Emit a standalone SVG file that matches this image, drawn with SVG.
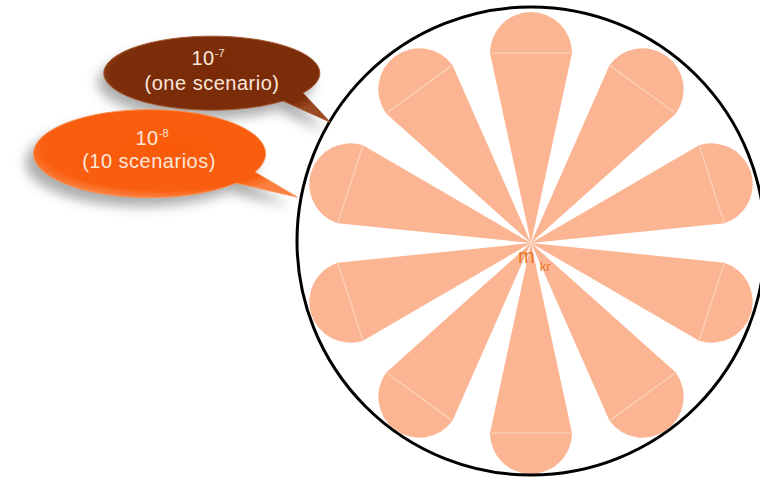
<svg xmlns="http://www.w3.org/2000/svg" width="760" height="479" viewBox="0 0 760 479">
<style>
.petal{fill:#fbb592;}
.seam{stroke:#fdd8c3;stroke-width:1;fill:none;}
.btxt{font-family:"Liberation Sans",Arial,sans-serif;font-size:20px;fill:#fbe7d8;text-anchor:middle;letter-spacing:0.5px;}
.sup{font-size:11px;letter-spacing:0;}
.lbl{font-family:"Liberation Sans",Arial,sans-serif;font-size:20px;fill:#e8742a;}
</style>
<defs>
<filter id="shadow" x="-20%" y="-30%" width="140%" height="170%">
<feGaussianBlur stdDeviation="6"/>
</filter>
<radialGradient id="gBrown" cx="50%" cy="45%" r="55%">
<stop offset="0" stop-color="#7a2a06"/>
<stop offset="0.85" stop-color="#7c2e0a"/>
<stop offset="1" stop-color="#9a4a22"/>
</radialGradient>
<radialGradient id="gOrange" cx="50%" cy="45%" r="55%">
<stop offset="0" stop-color="#fa5a0a"/>
<stop offset="0.85" stop-color="#f95e10"/>
<stop offset="1" stop-color="#fb8040"/>
</radialGradient>
<g id="petalShape">
<path class="petal" d="M0,0 L-41,-190 A41,41 0 0 1 41,-190 Z"/>
<path class="seam" d="M-40,-190 H40"/>
</g>
</defs>
<rect width="760" height="479" fill="#ffffff"/>

<g id="ring">
<circle cx="531" cy="241" r="234" fill="#ffffff" stroke="none"/>
</g>

<g id="petals" transform="translate(531,243)">
<use href="#petalShape" transform="rotate(0)"/>
<use href="#petalShape" transform="rotate(36)"/>
<use href="#petalShape" transform="rotate(72)"/>
<use href="#petalShape" transform="rotate(108)"/>
<use href="#petalShape" transform="rotate(144)"/>
<use href="#petalShape" transform="rotate(180)"/>
<use href="#petalShape" transform="rotate(216)"/>
<use href="#petalShape" transform="rotate(252)"/>
<use href="#petalShape" transform="rotate(288)"/>
<use href="#petalShape" transform="rotate(324)"/>
</g>

<g id="ringStroke">
<circle cx="531" cy="241" r="234" fill="none" stroke="#000000" stroke-width="3"/>
</g>

<g id="bubble-one">
<path d="M283,101 L330,122 L303,93 A108,37 0 1 0 283,101 Z" fill="#8a8a8a" opacity="0.7" filter="url(#shadow)" transform="translate(-6,9)"/>
<path d="M283,101 L330,122 L303,93 A108,37 0 1 0 283,101 Z" fill="url(#gBrown)" stroke="#a65a33" stroke-width="1"/>
<text class="btxt" x="208" y="65">10<tspan class="sup" dy="-8">-7</tspan></text>
<text class="btxt" x="212" y="90">(one scenario)</text>
</g>

<g id="bubble-ten">
<path d="M236,183 L297,197 L255,172 A116,44 0 1 0 236,183 Z" fill="#8a8a8a" opacity="0.7" filter="url(#shadow)" transform="translate(-8,9)"/>
<path d="M236,183 L297,197 L255,172 A116,44 0 1 0 236,183 Z" fill="url(#gOrange)" stroke="#fb9050" stroke-width="1"/>
<text class="btxt" x="152" y="145">10<tspan class="sup" dy="-8">-8</tspan></text>
<text class="btxt" x="149" y="168">(10 scenarios)</text>
</g>

<g id="label-mkr">
<text class="lbl" x="518" y="263">m<tspan font-size="13" dx="5" dy="8">kr</tspan></text>
</g>
</svg>
